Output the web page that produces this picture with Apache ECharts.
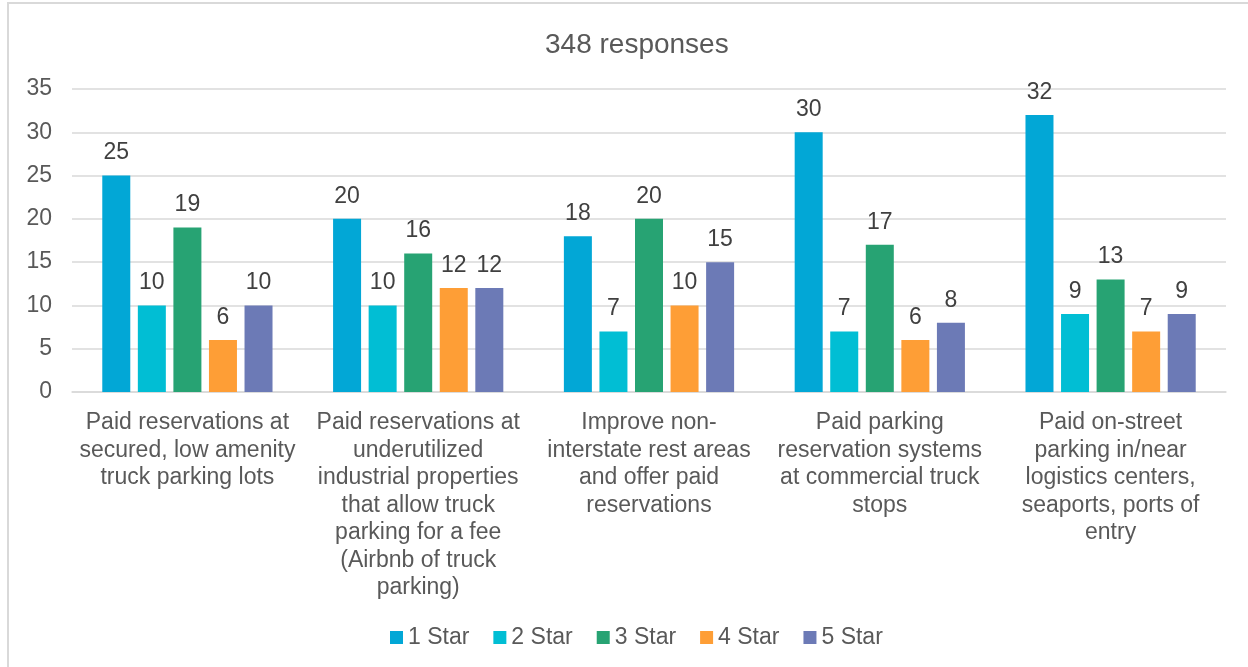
<!DOCTYPE html>
<html>
<head>
<meta charset="utf-8">
<script src="https://cdn.jsdelivr.net/npm/echarts@6/dist/echarts.min.js"></script>
<style>
  html, body { margin: 0; padding: 0; background: #fff; }
  #chart { width: 1248px; height: 667px; }
</style>
</head>
<body>
<div id="chart"></div>
<script>
// chart data
const categories = [
  "Paid reservations at\nsecured, low amenity\ntruck parking lots",
  "Paid reservations at\nunderutilized\nindustrial properties\nthat allow truck\nparking for a fee\n(Airbnb of truck\nparking)",
  "Improve non-\ninterstate rest areas\nand offer paid\nreservations",
  "Paid parking\nreservation systems\nat commercial truck\nstops",
  "Paid on-street\nparking in/near\nlogistics centers,\nseaports, ports of\nentry"
];
const seriesNames = ["1 Star", "2 Star", "3 Star", "4 Star", "5 Star"];
const star1 = [25, 20, 18, 30, 32];
const star2 = [10, 10, 7, 7, 9];
const star3 = [19, 16, 20, 17, 13];
const star4 = [6, 12, 10, 6, 7];
const star5 = [10, 12, 15, 8, 9];
const yTicks = [0, 5, 10, 15, 20, 25, 30, 35];

const colors = ["#02a7d6", "#01bed4", "#27a373", "#fe9e36", "#6c7ab6"];
const font = "'Liberation Sans', Arial, sans-serif";

const chart = echarts.init(document.getElementById("chart"));

const values = [star1, star2, star3, star4, star5];
const series = values.map((data, i) => ({
  name: seriesNames[i],
  type: "bar",
  data: data,
  barWidth: 28,
  barGap: "27%",
  itemStyle: { color: colors[i] },
  label: {
    show: true,
    position: "top",
    distance: 11,
    color: "#404040",
    fontSize: 23,
    fontFamily: font
  },
  animation: false
}));

chart.setOption({
  animation: false,
  title: {
    text: "348 responses",
    left: 540,
    top: 26,
    textStyle: { color: "#595959", fontSize: 28, fontWeight: "normal", fontFamily: font }
  },
  graphic: [{
    type: "rect",
    shape: { x: 8, y: 3, width: 1300, height: 700 },
    style: { fill: "none", stroke: "#d9d9d9", lineWidth: 2 },
    silent: true
  }],
  legend: {
    data: seriesNames,
    bottom: 13,
    left: 385,
    icon: "rect",
    itemWidth: 13,
    itemHeight: 13,
    itemGap: 24,
    textStyle: { color: "#595959", fontSize: 23, fontFamily: font }
  },
  grid: { left: 72, right: 22, top: 89, bottom: 275, containLabel: false },
  xAxis: {
    type: "category",
    data: categories,
    axisTick: { show: false },
    axisLine: { lineStyle: { color: "#d9d9d9", width: 1.5 } },
    axisLabel: {
      color: "#595959",
      fontSize: 23,
      lineHeight: 27.5,
      fontFamily: font,
      margin: 17,
      interval: 0,
      align: "center"
    }
  },
  yAxis: {
    type: "value",
    min: yTicks[0],
    max: yTicks[yTicks.length - 1],
    interval: 5,
    axisLine: { show: false },
    axisTick: { show: false },
    splitLine: { lineStyle: { color: "#d9d9d9", width: 1.5 } },
    axisLabel: { color: "#595959", fontSize: 23, fontFamily: font, margin: 20 }
  },
  series: series
});
</script>
</body>
</html>
